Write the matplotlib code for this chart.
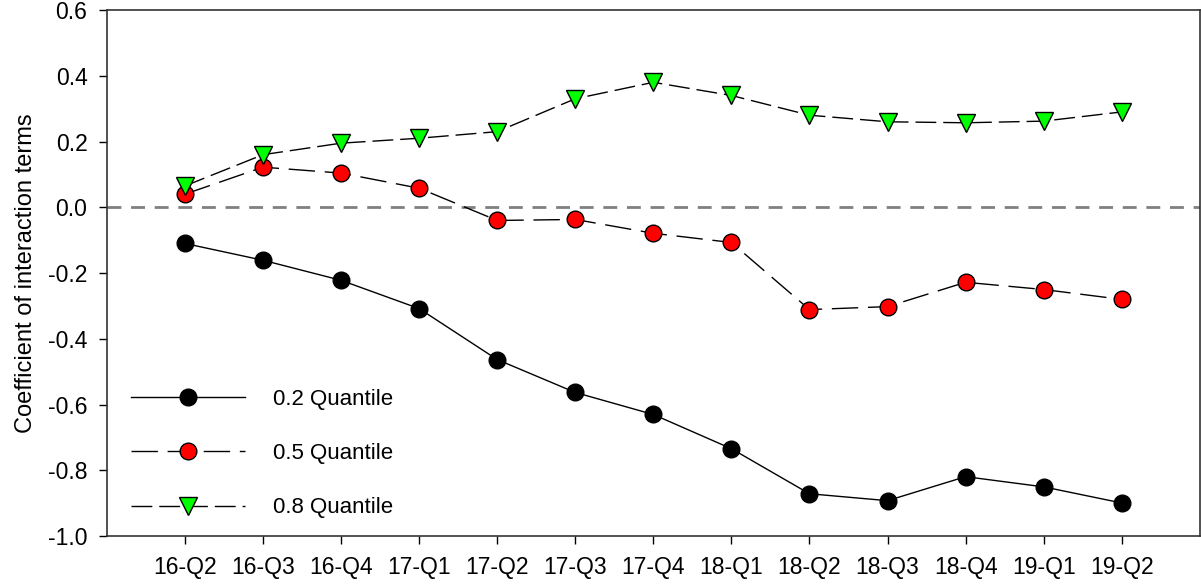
import matplotlib
matplotlib.use("Agg")
import matplotlib.pyplot as plt
import numpy as np

plt.rcParams["font.family"] = ["Liberation Sans", "DejaVu Sans"]

quarters = ["16-Q2", "16-Q3", "16-Q4", "17-Q1", "17-Q2", "17-Q3", "17-Q4",
            "18-Q1", "18-Q2", "18-Q3", "18-Q4", "19-Q1", "19-Q2"]
q20 = [-0.110, -0.161, -0.222, -0.308, -0.463, -0.563, -0.630,
       -0.734, -0.871, -0.892, -0.819, -0.850, -0.899]
q50 = [0.040, 0.122, 0.104, 0.058, -0.040, -0.037, -0.079,
       -0.107, -0.311, -0.302, -0.228, -0.250, -0.280]
q80 = [0.065, 0.160, 0.195, 0.210, 0.230, 0.330, 0.380,
       0.340, 0.280, 0.260, 0.257, 0.262, 0.290]
yticks = [-1.0, -0.8, -0.6, -0.4, -0.2, 0.0, 0.2, 0.4, 0.6]

x = np.arange(1, len(quarters) + 1)

fig = plt.figure(figsize=(12.01, 5.86), dpi=100)
ax = fig.add_axes([0.089, 0.085, 0.910, 0.898])

ax.axhline(0, color="#808080", lw=2, dashes=(5, 3.5), zorder=1)

ax.plot(x, q20, color="black", lw=1, marker="o", ms=12,
        mfc="black", mec="black", label="0.2 Quantile", zorder=3)
ax.plot(x, q50, color="black", lw=1, dashes=(19, 7), marker="o", ms=12,
        mfc="red", mec="black", mew=1, label="0.5 Quantile", zorder=3)
ax.plot(x, q80, color="black", lw=1, dashes=(15, 5), marker="v", ms=13,
        mfc="#00ff00", mec="black", mew=1, label="0.8 Quantile", zorder=3)

ax.set_xlim(0, 14)
ax.set_ylim(-1.0, 0.6)
ax.set_xticks(x)
ax.set_xticklabels(quarters)
ax.set_yticks(yticks)
ax.set_yticklabels([f"{v:.1f}" for v in yticks])
ax.tick_params(direction="out", length=6, width=1, labelsize=16.5, pad=8)
ax.set_ylabel("Coefficient of interaction terms", fontsize=17, labelpad=8)

for s in ax.spines.values():
    s.set_color("#333333")
    s.set_linewidth(1.2)

ax.legend(loc="lower left", bbox_to_anchor=(0.006, 0.0), frameon=False,
          fontsize=16, handlelength=5.1, handletextpad=1.3,
          labelspacing=1.5, borderaxespad=0.4)

plt.savefig("out.png", dpi=100)
plt.close()
